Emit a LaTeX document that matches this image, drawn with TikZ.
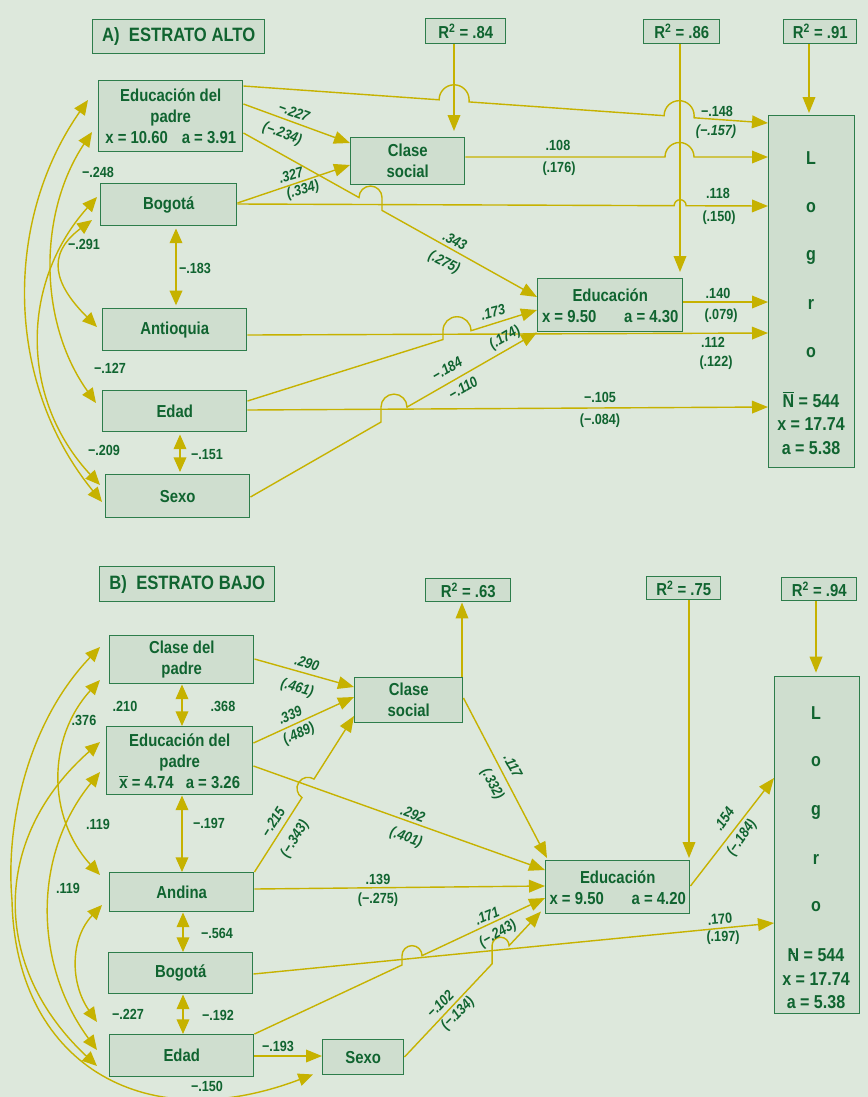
\documentclass[tikz,border=0pt]{standalone}
\usepackage{fontspec}
\setmainfont{Liberation Sans}[FakeStretch=0.86]
\usetikzlibrary{arrows.meta,calc}
\definecolor{bgc}{RGB}{221,232,220}
\definecolor{boxfill}{RGB}{207,222,207}
\definecolor{boxline}{RGB}{45,125,75}
\definecolor{txt}{RGB}{16,100,48}
\definecolor{arrc}{RGB}{198,178,0}
\newcommand{\xbarq}{\rlap{\raisebox{0.62em}{\rule{0.5em}{0.8pt}}}x}
\newcommand{\Nbarq}{\rlap{\raisebox{0.8em}{\rule{0.62em}{0.8pt}}}N}
\newcommand{\Ndashq}{\rlap{\hspace{0.1em}\raisebox{0.4em}{\rule{0.28em}{0.9pt}}}N}
\newcommand{\Rsq}{R\textsuperscript{2}}
\begin{document}
\begin{tikzpicture}[x=0.75pt,y=-0.75pt,
  box/.style={draw=boxline,line width=1.1pt,fill=boxfill,text=txt,
     font=\fontsize{13}{15.75}\selectfont\bfseries,align=center,inner sep=0pt,anchor=north west},
  wh/.style 2 args={minimum width={#1*0.75pt},minimum height={#2*0.75pt}},
  ttl/.style={font=\fontsize{14.5}{17}\selectfont\bfseries},
  lab/.style={text=txt,font=\fontsize{11}{12}\selectfont\bfseries,inner sep=0pt},
  ilab/.style={text=txt,font=\fontsize{11}{12}\selectfont\bfseries\itshape,inner sep=0pt},
  lg/.style={text=txt,font=\fontsize{14}{16}\selectfont\bfseries,inner sep=0pt},
  arr/.style={draw=arrc,line width=1.05pt,-{Triangle[length=12pt,width=9.5pt]}},
  darr/.style={draw=arrc,line width=1.05pt,{Triangle[length=11pt,width=9.5pt]}-{Triangle[length=11pt,width=9.5pt]}},
]
\fill[bgc] (0,0) rectangle (868,1097);
\useasboundingbox (0,0) rectangle (868,1097);

% ================= A =================
\node[box,wh={172}{34},ttl] (titleA) at (92,19) {A)\ \ ESTRATO ALTO};
\node[box,wh={80}{25}] (r84) at (425,18) {\Rsq{} = .84};
\node[box,wh={76}{24}] (r86) at (643,19) {\Rsq{} = .86};
\node[box,wh={73}{24}] (r91) at (783,19) {\Rsq{} = .91};
\node[box,wh={144}{71}] (epA) at (98,80) {Educación del\\padre\\x = 10.60\hspace{0.8em}a = 3.91};
\node[box,wh={136}{42}] (bogA) at (100,183) {Bogotá};
\node[box,wh={144}{42}] (antA) at (102,308) {Antioquia};
\node[box,wh={144}{41}] (edadA) at (102,390) {Edad};
\node[box,wh={144}{43}] (sexoA) at (105,474) {Sexo};
\node[box,wh={114}{47}] (csA) at (350,137) {Clase\\social};
\node[box,wh={145}{53}] (educA) at (537,278) {Educación\\x = 9.50\hspace{1.6em}a = 4.30};
\node[box,wh={86}{352}] (logA) at (768,115) {};
\node[lg] (lgA1) at (811,158) {L};
\node[lg] (lgA2) at (811,208) {o};
\node[lg] (lgA3) at (811,257) {g};
\node[lg] (lgA4) at (811,304) {r};
\node[lg] (lgA5) at (811,353) {o};
\node[lg] (lgA6) at (811,400) {\Nbarq{} = 544};
\node[lg] (lgA7) at (811,424) {x = 17.74};
\node[lg] (lgA8) at (811,448) {a = 5.38};

% a1 Educ padre -> Logro
\coordinate (a1s) at (epA.east |- 0,86);
\coordinate (a1e) at (logA.west |- 0,123);
\coordinate (a1p) at (intersection of a1s--a1e and 439,0--439,10);
\coordinate (a1q) at (intersection of a1s--a1e and 469,0--469,10);
\coordinate (a1r) at (intersection of a1s--a1e and 664,0--664,10);
\coordinate (a1t) at (intersection of a1s--a1e and 694,0--694,10);
\draw[arr] (a1s) -- (a1p) arc[start angle=180,end angle=360,radius=15] -- (a1q) -- (a1r) arc[start angle=180,end angle=360,radius=15] -- (a1t) -- (a1e);
% a2
\draw[arr] (epA.east |- 0,104) -- (csA.west |- 0,143);
% a3 Educ padre -> Educacion
\coordinate (a3s) at (epA.east |- 0,133);
\coordinate (a3e) at (educA.west |- 0,297);
\coordinate (a3p) at (intersection of a3s--a3e and 359,0--359,10);
\coordinate (a3q) at (intersection of a3s--a3e and 382,0--382,10);
\draw[arr] (a3s) -- (a3p) arc[start angle=180,end angle=360,radius=11.5] -- (a3q) -- (a3e);
% a4
\draw[arr] (bogA.east |- 0,203) -- (csA.west |- 0,165);
% a5 Bogota -> Logro
\coordinate (a5s) at (bogA.east |- 0,204);
\coordinate (a5e) at (logA.west |- 0,206);
\coordinate (a5p) at (intersection of a5s--a5e and 674,0--674,10);
\coordinate (a5q) at (intersection of a5s--a5e and 686,0--686,10);
\draw[arr] (a5s) -- (a5p) arc[start angle=180,end angle=360,radius=6] -- (a5q) -- (a5e);
% a6 Clase social -> Logro
\coordinate (a6s) at (csA.east |- 0,157);
\coordinate (a6e) at (logA.west |- 0,157);
\draw[arr] (a6s) -- (665,157) arc[start angle=180,end angle=360,radius=14.5] -- (a6e);
% R2 arrows
\draw[arr,shorten >=4.5pt] (454,0 |- r84.south) -- (454,0 |- csA.north);
\draw[arr,shorten >=4.5pt] (680,0 |- r86.south) -- (680,0 |- educA.north);
\draw[arr,shorten >=1.5pt] (809,0 |- r91.south) -- (809,0 |- logA.north);
% a10 Antioquia -> Logro
\draw[arr] (antA.east |- 0,335) -- (logA.west |- 0,333);
% a11 Edad -> Educacion
\coordinate (a11s) at (edadA.east |- 0,401);
\coordinate (a11e) at (educA.west |- 0,310);
\coordinate (a11p) at (intersection of a11s--a11e and 443,0--443,10);
\coordinate (a11q) at (intersection of a11s--a11e and 471,0--471,10);
\draw[arr] (a11s) -- (a11p) -- (a11p |- a11q) arc[start angle=180,end angle=360,radius=14] -- (a11e);
% a12 Sexo -> Educacion
\coordinate (a12s) at (sexoA.east |- 0,497);
\coordinate (a12e) at (educA.south west);
\coordinate (a12p) at (intersection of a12s--a12e and 381,0--381,10);
\coordinate (a12q) at (intersection of a12s--a12e and 407,0--407,10);
\draw[arr] (a12s) -- (a12p) -- (a12p |- a12q) arc[start angle=180,end angle=360,radius=13] -- (a12e);
% a13 Edad -> Logro
\draw[arr] (edadA.east |- 0,410) -- (logA.west |- 0,407);
% a14 Educacion -> Logro
\draw[arr] (educA.east |- 0,302) -- (logA.west |- 0,302);
% vertical double
\draw[darr,shorten <=1.5pt,shorten >=2pt] (176,0 |- bogA.south) -- (176,0 |- antA.north);
\draw[darr,shorten <=1.5pt,shorten >=1.5pt] (180,0 |- edadA.south) -- (180,0 |- sexoA.north);
% curved correlations A
\coordinate (epAu) at ($(epA.north west)+(-10,20)$);
\coordinate (epAl) at ($(epA.north west)+(-6,52)$);
\coordinate (bogAu) at ($(bogA.north west)+(-3,14)$);
\coordinate (bogAl) at ($(bogA.north west)+(-8,37)$);
\coordinate (antAt) at ($(antA.north west)+(-5,19)$);
\coordinate (edAt) at ($(edadA.north west)+(-6,13)$);
\coordinate (sxAu) at ($(sexoA.north west)+(-5,11)$);
\coordinate (sxAl) at ($(sexoA.north west)+(-3,28)$);
\draw[darr] (epAu) .. controls (4,220) and (4,382) .. (sxAl);
\draw[darr] (bogAu) .. controls (20,283) and (20,399) .. (sxAu);
\draw[darr] (epAl) .. controls (38,213) and (38,322) .. (edAt);
\draw[darr] (bogAl) .. controls (45,255) and (55,285) .. (antAt);

% labels A
\node[lab] (lA1) at (717,111) {−.148};
\node[ilab] (lA2) at (716,132) {(−.157)};
\node[ilab,rotate=-20] (lA3) at (294,112) {−.227};
\node[ilab,rotate=-20] (lA4) at (282,134) {(−.234)};
\node[lab] (lA5) at (558,145) {.108};
\node[lab] (lA6) at (559,169) {(.176)};
\node[ilab,rotate=16] (lA7) at (291,175) {.327};
\node[ilab,rotate=16] (lA8) at (303,190) {(.334)};
\node[lab] (lA9) at (718,193) {.118};
\node[lab] (lA10) at (719,218) {(.150)};
\node[ilab,rotate=-27] (lA11) at (455,241) {.343};
\node[ilab,rotate=-27] (lA12) at (444,263) {(.275)};
\node[lab] (lA13) at (98,172) {−.248};
\node[lab] (lA14) at (84,244) {−.291};
\node[lab] (lA15) at (195,268) {−.183};
\node[lab] (lA16) at (110,368) {−.127};
\node[lab] (lA17) at (104,450) {−.209};
\node[lab] (lA18) at (207,455) {−.151};
\node[lab] (lA19) at (718,293) {.140};
\node[lab] (lA20) at (721,316) {(.079)};
\node[lab] (lA21) at (713,342) {.112};
\node[lab] (lA22) at (716,363) {(.122)};
\node[ilab,rotate=15] (lA23) at (493,312) {.173};
\node[ilab,rotate=30] (lA24) at (505,338) {(.174)};
\node[ilab,rotate=30] (lA25) at (447,369) {−.184};
\node[ilab,rotate=30] (lA26) at (463,388) {−.110};
\node[lab] (lA27) at (600,397) {−.105};
\node[lab] (lA28) at (600,421) {(−.084)};

% ================= B =================
\node[box,wh={175}{35},ttl] (titleB) at (99,566) {B)\ \ ESTRATO BAJO};
\node[box,wh={85}{23}] (r63) at (425,578) {\Rsq{} = .63};
\node[box,wh={74}{23}] (r75) at (646,576) {\Rsq{} = .75};
\node[box,wh={75}{23}] (r94) at (781,577) {\Rsq{} = .94};
\node[box,wh={144}{48}] (cpB) at (109,635) {Clase del\\padre};
\node[box,wh={146}{68}] (epB) at (106,726) {Educación del\\padre\\\xbarq{} = 4.74\hspace{0.7em}a = 3.26};
\node[box,wh={144}{39}] (andB) at (109,872) {Andina};
\node[box,wh={144}{41}] (bogB) at (108,952) {Bogotá};
\node[box,wh={144}{42}] (edadB) at (109,1034) {Edad};
\node[box,wh={81}{35}] (sexoB) at (322,1039) {Sexo};
\node[box,wh={108}{45}] (csB) at (354,677) {Clase\\social};
\node[box,wh={144}{53}] (educB) at (545,860) {Educación\\x = 9.50\hspace{1.6em}a = 4.20};
\node[box,wh={85}{337}] (logB) at (774,676) {};
\node[lg] (lgB1) at (816,713) {L};
\node[lg] (lgB2) at (816,762) {o};
\node[lg] (lgB3) at (816,812) {g};
\node[lg] (lgB4) at (816,859) {r};
\node[lg] (lgB5) at (816,907) {o};
\node[lg] (lgB6) at (816,955) {\Ndashq{} = 544};
\node[lg] (lgB7) at (816,979) {x = 17.74};
\node[lg] (lgB8) at (816,1002) {a = 5.38};

% b1 b2 b3
\draw[arr] (cpB.east |- 0,659) -- (csB.west |- 0,687);
\draw[arr] (epB.east |- 0,743) -- (csB.west |- 0,697);
\draw[arr] (epB.east |- 0,766) -- (educB.west |- 0,870);
% b4 Andina -> Clase social (hop)
\coordinate (b4s) at (andB.north east);
\coordinate (b4e) at (csB.west |- 0,716);
\coordinate (b4p) at (intersection of b4s--b4e and 302,0--302,10);
\draw[arr] (b4s) -- (b4p) arc[start angle=123,end angle=303,radius=11] -- (b4e);
% b5
\draw[arr] (andB.east |- 0,889) -- (educB.west |- 0,886);
% b6 Edad -> Educacion
\coordinate (b6s) at (edadB.north east);
\coordinate (b6e) at (educB.west |- 0,898);
\coordinate (b6p) at (intersection of b6s--b6e and 402,0--402,10);
\coordinate (b6q) at (intersection of b6s--b6e and 422,0--422,10);
\draw[arr] (b6s) -- (b6p) -- (b6p |- b6q) arc[start angle=180,end angle=360,radius=10] -- (b6e);
% b7 Sexo -> Educacion
\coordinate (b7s) at (sexoB.east |- 0,1057);
\coordinate (b7e) at ($(educB.south west)+(-4,-3)$);
\coordinate (b7p) at (intersection of b7s--b7e and 492,0--492,10);
\coordinate (b7q) at (intersection of b7s--b7e and 509,0--509,10);
\draw[arr] (b7s) -- (b7p) -- (b7p |- b7q) arc[start angle=180,end angle=360,radius=8.5] -- (b7e);
% b8 Bogota -> Logro
\draw[arr] (bogB.east |- 0,974) -- (logB.west |- 0,923);
% b9 Educacion -> Logro
\draw[arr] (educB.east |- 0,886) -- (logB.west |- 0,778);
% b10 Clase social -> Educacion
\draw[arr] (csB.east |- 0,698) -- ($(educB.north west)+(2,-2)$);
% R2
\draw[arr] (462,0 |- csB.north) -- (462,0 |- r63.south);
\draw[arr,shorten >=1.5pt] (689,0 |- r75.south) -- (689,0 |- educB.north);
\draw[arr,shorten >=2.5pt] (816,0 |- r94.south) -- (816,0 |- logB.north);
% b14 Edad -> Sexo
\draw[arr] (edadB.east |- 0,1056) -- (sexoB.west |- 0,1056);
% vertical double
\draw[darr] (182,0 |- cpB.south) -- (182,0 |- epB.north);
\draw[darr] (182,0 |- epB.south) -- (182,0 |- andB.north);
\draw[darr] (183,0 |- andB.south) -- (183,0 |- bogB.north);
\draw[darr] (183,0 |- bogB.south) -- (183,0 |- edadB.north);
% curves B
\coordinate (cpBu) at ($(cpB.north west)+(-9,12)$);
\coordinate (cpBl) at ($(cpB.north west)+(-9,45)$);
\coordinate (epBu) at ($(epB.north west)+(-6,16)$);
\coordinate (epBl) at ($(epB.north west)+(-6,46)$);
\coordinate (anBu) at ($(andB.north west)+(-9,3)$);
\coordinate (anBl) at ($(andB.north west)+(-7,33)$);
\coordinate (edBu) at ($(edadB.north west)+(-12,-12)$);
\coordinate (edBm) at ($(edadB.north west)+(-12,16)$);
\coordinate (edBl) at ($(edadB.north west)+(-12,32)$);
\coordinate (sxBt) at ($(sexoB.south west)+(-9,-1)$);
\draw[darr] (cpBu) .. controls (30,720) and (5,820) .. (12,900) .. controls (15,1060) and (140,1140) .. (sxBt);
\draw[darr] (cpBl) .. controls (47,738) and (47,817) .. (anBu);
\draw[darr] (anBl) .. controls (70,939) and (70,983) .. (edBu);
\draw[darr] (epBu) .. controls (-9,838) and (-9,967) .. (edBl);
\draw[darr] (epBl) .. controls (33,854) and (33,963) .. (edBm);

% labels B
\node[ilab,rotate=-16] (lB1) at (307,663) {.290};
\node[ilab,rotate=-16] (lB2) at (297,688) {(.461)};
\node[ilab,rotate=25] (lB3) at (290,715) {.339};
\node[ilab,rotate=25] (lB4) at (299,734) {(.489)};
\node[lab] (lB5) at (125,706) {.210};
\node[lab] (lB6) at (223,706) {.368};
\node[lab] (lB7) at (84,720) {.376};
\node[lab] (lB8) at (98,824) {.119};
\node[lab] (lB9) at (68,888) {.119};
\node[lab] (lB10) at (209,823) {−.197};
\node[ilab,rotate=58] (lB11) at (273,822) {−.215};
\node[ilab,rotate=58] (lB12) at (295,839) {(−.343)};
\node[ilab,rotate=-20] (lB13) at (413,814) {.292};
\node[ilab,rotate=-20] (lB14) at (406,838) {(.401)};
\node[ilab,rotate=-62] (lB15) at (513,766) {.117};
\node[ilab,rotate=-62] (lB16) at (492,784) {(.332)};
\node[ilab,rotate=55] (lB17) at (724,819) {.154};
\node[ilab,rotate=55] (lB18) at (742,838) {(−.184)};
\node[lab] (lB19) at (378,879) {.139};
\node[lab] (lB20) at (378,900) {(−.275)};
\node[lab] (lB21) at (217,933) {−.564};
\node[ilab,rotate=22] (lB22) at (487,916) {.171};
\node[ilab,rotate=30] (lB23) at (498,934) {(−.243)};
\node[lab,rotate=5] (lB24) at (720,919) {.170};
\node[lab] (lB25) at (723,938) {(.197)};
\node[ilab,rotate=45] (lB26) at (440,1004) {−.102};
\node[ilab,rotate=45] (lB27) at (458,1014) {(−.134)};
\node[lab] (lB28) at (128,1014) {−.227};
\node[lab] (lB29) at (218,1015) {−.192};
\node[lab] (lB30) at (278,1046) {−.193};
\node[lab] (lB31) at (207,1086) {−.150};
\end{tikzpicture}
\end{document}
